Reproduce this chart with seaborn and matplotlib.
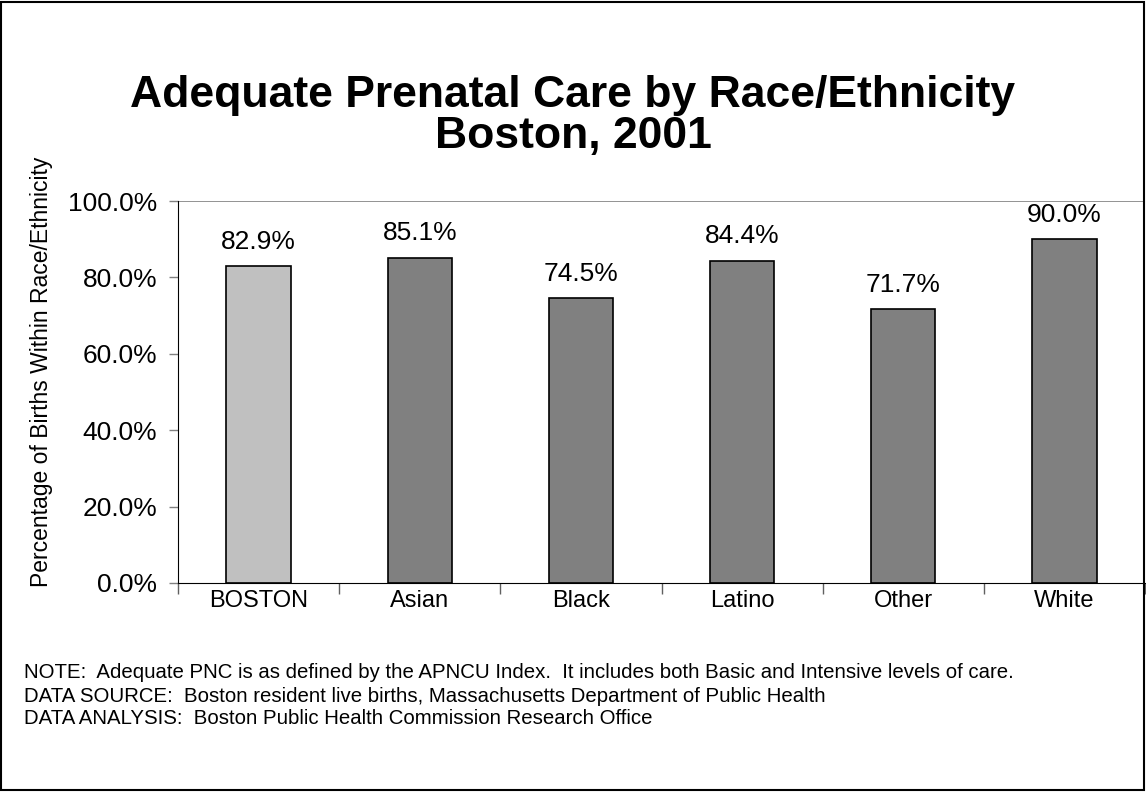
import matplotlib
matplotlib.use("Agg")
import matplotlib.pyplot as plt
import seaborn as sns
import pandas as pd
from matplotlib.patches import Rectangle
from matplotlib.ticker import FuncFormatter

# Данные
categories = ["BOSTON", "Asian", "Black", "Latino", "Other", "White"]
values = [82.9, 85.1, 74.5, 84.4, 71.7, 90.0]
bar_colors = ["#C0C0C0", "#808080", "#808080", "#808080", "#808080", "#808080"]
notes = [
    "NOTE:  Adequate PNC is as defined by the APNCU Index.  It includes both Basic and Intensive levels of care.",
    "DATA SOURCE:  Boston resident live births, Massachusetts Department of Public Health",
    "DATA ANALYSIS:  Boston Public Health Commission Research Office",
]

sns.set_style("white")
plt.rcParams["font.family"] = ["Liberation Sans", "DejaVu Sans"]
plt.rcParams["text.color"] = "black"
plt.rcParams["xtick.color"] = "black"
plt.rcParams["ytick.color"] = "black"
plt.rcParams["xtick.labelcolor"] = "black"
plt.rcParams["ytick.labelcolor"] = "black"

df = pd.DataFrame({"group": categories, "pct": values})

fig = plt.figure(figsize=(11.46, 7.92), dpi=100)
ax = fig.add_axes([178 / 1146, 1 - 583 / 792, 967 / 1146, 382 / 792])

sns.barplot(data=df, x="group", y="pct", hue="group", palette=bar_colors,
            width=0.4, edgecolor="black", linewidth=1.2, legend=False,
            saturation=1, ax=ax)

# Подписи значений
for i, v in enumerate(values):
    ax.annotate(f"{v:.1f}%", (i, v), xytext=(0, 9), textcoords="offset points",
                ha="center", va="bottom", fontsize=19)

ax.set_xlim(-0.5, len(categories) - 0.5)
ax.set_ylim(0, 100)
ax.set_yticks([0, 20, 40, 60, 80, 100])
ax.yaxis.set_major_formatter(FuncFormatter(lambda y, _: f"{y:.1f}%"))
ax.tick_params(axis="y", labelsize=19, length=6.5, width=1, color="#808080",
               labelcolor="black", left=True, direction="out", pad=8.5)
ax.set_xticks(range(len(categories)))
ax.set_xticks([i - 0.5 for i in range(len(categories) + 1)], minor=True)
ax.tick_params(axis="x", which="major", length=0, labelsize=17, pad=5,
               labelcolor="black")
ax.tick_params(axis="x", which="minor", length=8, width=1, color="#606060",
               bottom=True, direction="out")
ax.set_xlabel("")
ax.set_ylabel("")

for s in ["top", "right"]:
    ax.spines[s].set_visible(False)
ax.spines["left"].set_color("black")
ax.spines["bottom"].set_color("black")
ax.axhline(100, color="#808080", linewidth=1.2, zorder=0)

fig.text(42 / 1146, 1 - 372 / 792, "Percentage of Births Within Race/Ethnicity",
         rotation=90, ha="center", va="center", fontsize=16.5)

fig.text(573 / 1146, 1 - 116 / 792, "Adequate Prenatal Care by Race/Ethnicity\nBoston, 2001",
         ha="center", va="center", fontsize=32, fontweight="bold", linespacing=1.0)

for k, line in enumerate(notes):
    fig.text(24 / 1146, 1 - (673 + 23 * k) / 792, line, ha="left", va="center",
             fontsize=14.7)

# Рамка вокруг рисунка
fig.patches.append(Rectangle((0.001, 0.002), 0.997, 0.996, transform=fig.transFigure,
                             fill=False, edgecolor="black", linewidth=1.5))

fig.savefig("out.png", dpi=100)
